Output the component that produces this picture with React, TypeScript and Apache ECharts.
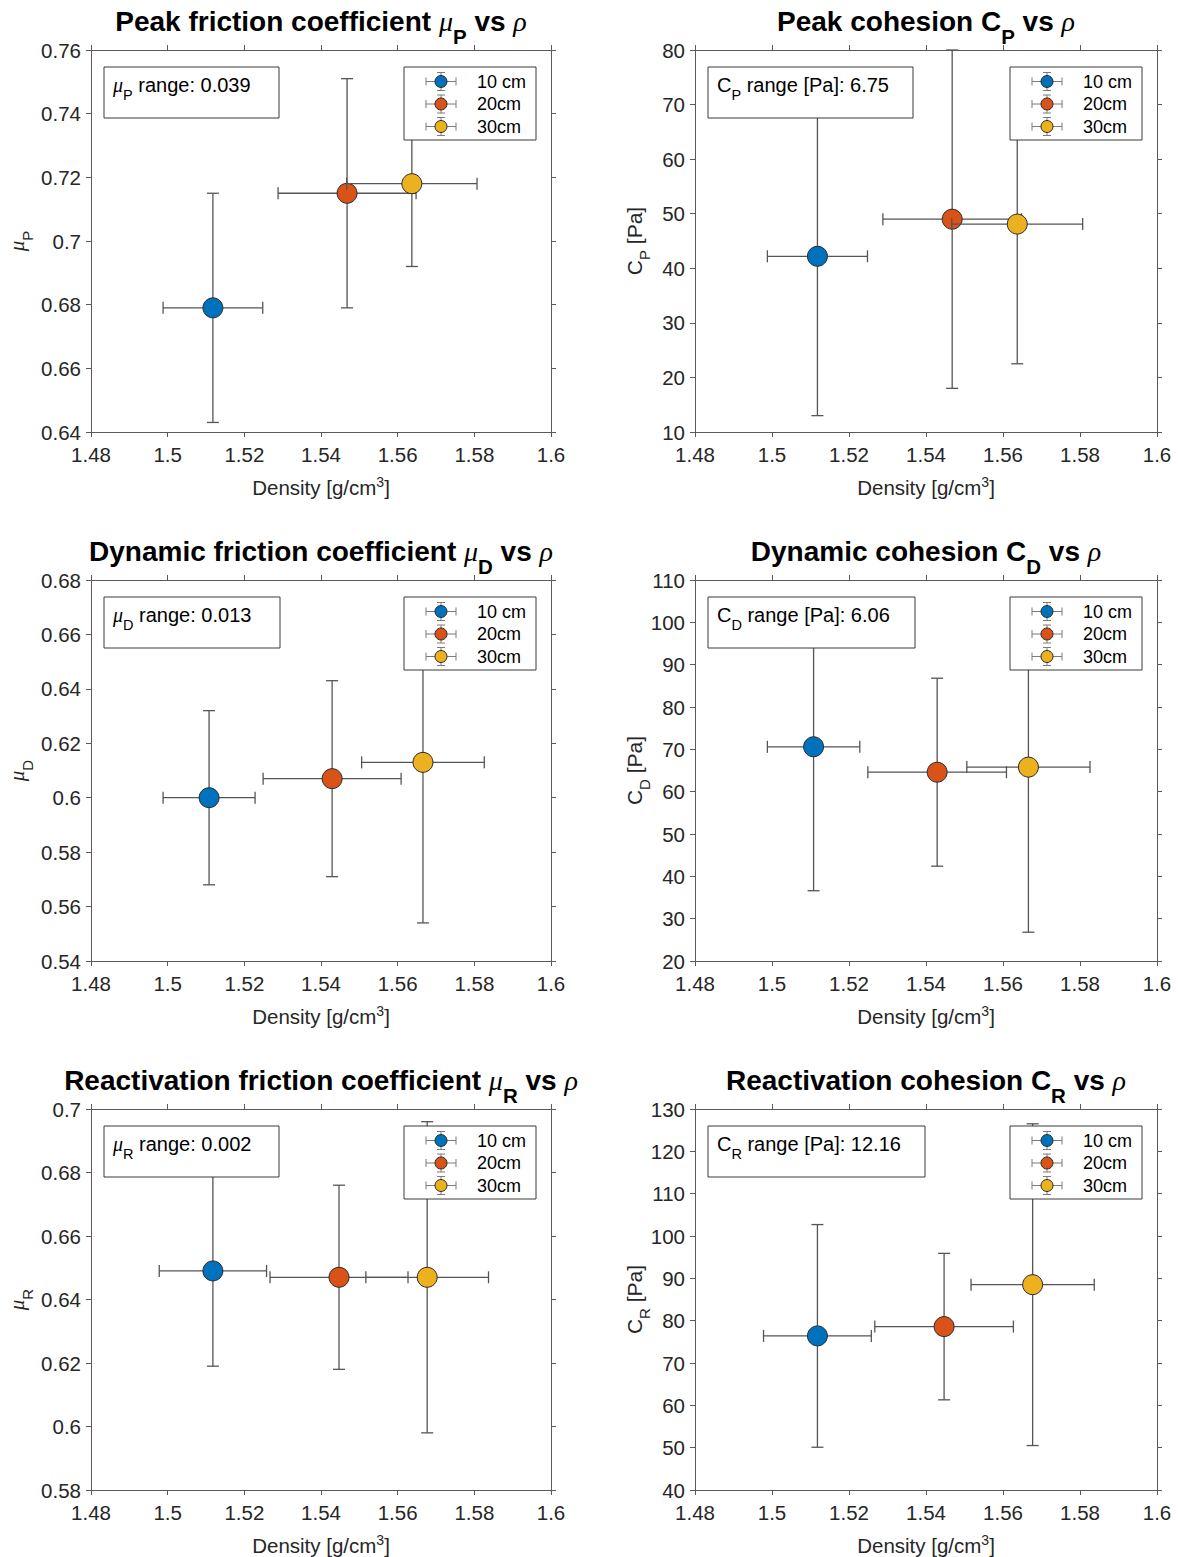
import React, { useEffect, useRef } from 'react';
import * as echarts from 'echarts';

// ---------- data ----------
const groups = ['10 cm', '20cm', '30cm'];

const xTickMin = 1.48;
const xTickMax = 1.6;
const xTickStep = 0.02;

// Peak strength
const peakDensity = [1.5118, 1.5468, 1.5637];
const peakDensityErr = [0.013, 0.018, 0.017];
const peakFriction = [0.679, 0.715, 0.718];
const peakFrictionErr = [0.036, 0.036, 0.026];
const peakCohesion = [42.2, 49.0, 48.1];
const peakCohesionErr = [29.2, 31.0, 25.6];

// Dynamic strength
const dynDensity = [1.5108, 1.5429, 1.5666];
const dynDensityErr = [0.012, 0.018, 0.016];
const dynFriction = [0.6, 0.607, 0.613];
const dynFrictionErr = [0.032, 0.036, 0.059];
const dynCohesion = [70.6, 64.6, 65.8];
const dynCohesionErr = [34.0, 22.2, 39.0];

// Reactivation strength
const reaDensity = [1.5118, 1.5447, 1.5677];
const reaDensityErr = [0.014, 0.018, 0.016];
const reaFriction = [0.649, 0.647, 0.647];
const reaFrictionErr = [0.03, 0.029, 0.049];
const reaCohesion = [76.4, 78.6, 88.5];
const reaCohesionErr = [26.3, 17.3, 38.0];

// y axis limits [min, max, step]
const yLimits = [
  [0.64, 0.76, 0.02],
  [10, 80, 10],
  [0.54, 0.68, 0.02],
  [20, 110, 10],
  [0.58, 0.7, 0.02],
  [40, 130, 10],
];

const rangeTexts = ['0.039', '6.75', '0.013', '6.06', '0.002', '12.16'];
const titleHeads = [
  'Peak friction coefficient ',
  'Peak cohesion C',
  'Dynamic friction coefficient ',
  'Dynamic cohesion C',
  'Reactivation friction coefficient ',
  'Reactivation cohesion C',
];
const subLetters = ['P', 'P', 'D', 'D', 'R', 'R'];
const isFriction = [true, false, true, false, true, false];
const xLabel = 'Density [g/cm';

const panelData = [
  { d: peakDensity, de: peakDensityErr, v: peakFriction, ve: peakFrictionErr },
  { d: peakDensity, de: peakDensityErr, v: peakCohesion, ve: peakCohesionErr },
  { d: dynDensity, de: dynDensityErr, v: dynFriction, ve: dynFrictionErr },
  { d: dynDensity, de: dynDensityErr, v: dynCohesion, ve: dynCohesionErr },
  { d: reaDensity, de: reaDensityErr, v: reaFriction, ve: reaFrictionErr },
  { d: reaDensity, de: reaDensityErr, v: reaCohesion, ve: reaCohesionErr },
];

// ---------- layout / style ----------
const colLeft = [91, 695];
const colWidth = [460, 462];
const rowTop = [50, 580, 1109];
const rowHeight = [382, 381, 381];
const noteWidths = [175, 205, 176, 207, 175, 217];

const groupColors = ['#0072BD', '#D95319', '#EDB120'];
const FONT = "'Liberation Sans', Arial, Helvetica, sans-serif";
const SERIF = "'Liberation Serif', 'DejaVu Serif', serif";
const AX = '#5a5a5a';
const TXT = '#262626';
const BAR = '#555555';

const fmt = (v: number) => String(Number(Number(v).toFixed(4)));

const makeRender = (color: string) => (params: any, api: any) => {
  const x = api.value(0);
  const y = api.value(1);
  const ex = api.value(2);
  const ey = api.value(3);
  const c = api.coord([x, y]);
  const yt = api.coord([x, y + ey])[1];
  const yb = api.coord([x, y - ey])[1];
  const xl = api.coord([x - ex, y])[0];
  const xr = api.coord([x + ex, y])[0];
  const cap = 6;
  const st = { stroke: BAR, lineWidth: 1.3 };
  const ln = (x1: number, y1: number, x2: number, y2: number) => ({
    type: 'line',
    shape: { x1, y1, x2, y2 },
    style: st,
  });
  return {
    type: 'group',
    children: [
      ln(c[0], yt, c[0], yb),
      ln(c[0] - cap, yt, c[0] + cap, yt),
      ln(c[0] - cap, yb, c[0] + cap, yb),
      ln(xl, c[1], xr, c[1]),
      ln(xl, c[1] - cap, xl, c[1] + cap),
      ln(xr, c[1] - cap, xr, c[1] + cap),
      {
        type: 'circle',
        shape: { cx: c[0], cy: c[1], r: 10 },
        style: { fill: color, stroke: '#2b2b2b', lineWidth: 1 },
      },
    ],
  };
};

function buildOption() {
  const grid: any[] = [];
  const xAxis: any[] = [];
  const yAxis: any[] = [];
  const series: any[] = [];
  const graphic: any[] = [];

  panelData.forEach((p, i) => {
    const c = i % 2;
    const r = Math.floor(i / 2);
    const left = colLeft[c];
    const width = colWidth[c];
    const top = rowTop[r];
    const height = rowHeight[r];
    const [yMin, yMax, yStep] = yLimits[i];

    grid.push({ left, top, width, height, show: false });

    const axisLine = { show: true, onZero: false, lineStyle: { color: AX, width: 1 } };
    const axisTick = { show: true, inside: false, length: 5, lineStyle: { color: AX, width: 1 } };
    const label = {
      show: true,
      fontSize: 20.5,
      color: TXT,
      fontFamily: FONT,
      formatter: fmt,
      showMinLabel: true,
      showMaxLabel: true,
    };

    xAxis.push({
      type: 'value', gridIndex: i, position: 'bottom',
      min: xTickMin, max: xTickMax, interval: xTickStep,
      axisLine, axisTick, splitLine: { show: false },
      axisLabel: { ...label, margin: 12 },
    });
    xAxis.push({
      type: 'value', gridIndex: i, position: 'top',
      min: xTickMin, max: xTickMax, interval: xTickStep,
      axisLine, axisTick, splitLine: { show: false }, axisLabel: { show: false },
    });
    yAxis.push({
      type: 'value', gridIndex: i, position: 'left',
      min: yMin, max: yMax, interval: yStep,
      axisLine, axisTick, splitLine: { show: false },
      axisLabel: { ...label, margin: 10 },
    });
    yAxis.push({
      type: 'value', gridIndex: i, position: 'right',
      min: yMin, max: yMax, interval: yStep,
      axisLine, axisTick, splitLine: { show: false }, axisLabel: { show: false },
    });

    groups.forEach((g, k) => {
      series.push({
        type: 'custom',
        name: g,
        xAxisIndex: 2 * i,
        yAxisIndex: 2 * i,
        z: 2 + k,
        encode: { x: 0, y: 1 },
        data: [[p.d[k], p.v[k], p.de[k], p.ve[k]]],
        renderItem: makeRender(groupColors[k]),
      });
    });

    const sub = subLetters[i];
    const fric = isFriction[i];

    // title
    graphic.push({
      type: 'text',
      z: 100,
      x: left + width / 2,
      y: top - 29,
      style: {
        text: `{b|${titleHeads[i]}}${fric ? '{mu|μ}' : ''}{bs|${sub}}{b| vs }{rho|ρ}`,
        align: 'center', textAlign: 'center',
        verticalAlign: 'middle', textVerticalAlign: 'middle',
        rich: {
          b: { fontFamily: FONT, fontWeight: 'bold', fontSize: 28, lineHeight: 52, verticalAlign: 'middle', fill: '#000', color: '#000' },
          bs: { fontFamily: FONT, fontWeight: 'bold', fontSize: 20.5, lineHeight: 20.5, verticalAlign: 'bottom', fill: '#000', color: '#000' },
          mu: { fontFamily: SERIF, fontStyle: 'italic', fontSize: 28, lineHeight: 52, verticalAlign: 'middle', fill: '#000', color: '#000' },
          rho: { fontFamily: SERIF, fontStyle: 'italic', fontSize: 28, lineHeight: 52, verticalAlign: 'middle', fill: '#000', color: '#000' },
        },
      },
    });

    // x axis name
    graphic.push({
      type: 'text',
      z: 100,
      x: left + width / 2,
      y: top + height + 55,
      style: {
        text: `{t|${xLabel}}{sup|3}{t|]}`,
        align: 'center', textAlign: 'center',
        verticalAlign: 'middle', textVerticalAlign: 'middle',
        rich: {
          t: { fontFamily: FONT, fontSize: 20.5, lineHeight: 23.4, verticalAlign: 'middle', fill: TXT, color: TXT },
          sup: { fontFamily: FONT, fontSize: 14, lineHeight: 14, verticalAlign: 'top', fill: TXT, color: TXT },
        },
      },
    });

    // y axis name
    graphic.push({
      type: 'text',
      z: 100,
      x: left - (fric ? 74 : 61),
      y: top + height / 2,
      rotation: Math.PI / 2,
      style: {
        text: fric ? `{mu|μ}{s|${sub}}` : `{t|C}{s|${sub}}{t| [Pa]}`,
        align: 'center', textAlign: 'center',
        verticalAlign: 'middle', textVerticalAlign: 'middle',
        rich: {
          t: { fontFamily: FONT, fontSize: 21, lineHeight: 35, verticalAlign: 'middle', fill: TXT, color: TXT },
          mu: { fontFamily: SERIF, fontStyle: 'italic', fontSize: 21, lineHeight: 35, verticalAlign: 'middle', fill: TXT, color: TXT },
          s: { fontFamily: FONT, fontSize: 15, lineHeight: 15, verticalAlign: 'bottom', fill: TXT, color: TXT },
        },
      },
    });

    // annotation box
    const bx = left + 13;
    const by = top + 17;
    graphic.push({
      type: 'rect',
      z: 100,
      shape: { x: bx, y: by, width: noteWidths[i], height: 51 },
      style: { fill: '#ffffff', stroke: '#3a3a3a', lineWidth: 1 },
    });
    graphic.push({
      type: 'text',
      z: 101,
      x: bx + 9,
      y: by + 18,
      style: {
        text: fric
          ? `{mu|μ}{s|${sub}}{t| range: ${rangeTexts[i]}}`
          : `{t|C}{s|${sub}}{t| range [Pa]: ${rangeTexts[i]}}`,
        align: 'left', textAlign: 'left',
        verticalAlign: 'middle', textVerticalAlign: 'middle',
        rich: {
          t: { fontFamily: FONT, fontSize: 20, lineHeight: 35, verticalAlign: 'middle', fill: '#000', color: '#000' },
          mu: { fontFamily: SERIF, fontStyle: 'italic', fontSize: 20, lineHeight: 35, verticalAlign: 'middle', fill: '#000', color: '#000' },
          s: { fontFamily: FONT, fontSize: 14.5, lineHeight: 14.5, verticalAlign: 'bottom', fill: '#000', color: '#000' },
        },
      },
    });

    // legend
    const lx = left + width - 147;
    const ly = top + 17;
    graphic.push({
      type: 'rect',
      z: 100,
      shape: { x: lx, y: ly, width: 132, height: 73 },
      style: { fill: '#ffffff', stroke: '#3a3a3a', lineWidth: 1 },
    });
    const rowsY = [14.5, 37, 59.5];
    groups.forEach((g, k) => {
      const ix = lx + 37;
      const iy = ly + rowsY[k];
      const ls = { stroke: '#7a7a7a', lineWidth: 1 };
      const seg = (x1: number, y1: number, x2: number, y2: number) => ({
        type: 'line', z: 101, shape: { x1, y1, x2, y2 }, style: ls,
      });
      graphic.push(seg(ix - 15, iy, ix + 15, iy));
      graphic.push(seg(ix - 15, iy - 4, ix - 15, iy + 4));
      graphic.push(seg(ix + 15, iy - 4, ix + 15, iy + 4));
      graphic.push(seg(ix, iy - 9, ix, iy + 9));
      graphic.push(seg(ix - 4, iy - 9, ix + 4, iy - 9));
      graphic.push(seg(ix - 4, iy + 9, ix + 4, iy + 9));
      graphic.push({
        type: 'circle', z: 102,
        shape: { cx: ix, cy: iy, r: 6 },
        style: { fill: groupColors[k], stroke: '#2b2b2b', lineWidth: 1 },
      });
      graphic.push({
        type: 'text', z: 102,
        x: lx + 73, y: iy,
        style: {
          text: g,
          fontFamily: FONT, fontSize: 18, fill: '#000',
          align: 'left', textAlign: 'left',
          verticalAlign: 'middle', textVerticalAlign: 'middle',
        },
      });
    });
  });

  return {
    animation: false,
    backgroundColor: '#ffffff',
    grid,
    xAxis,
    yAxis,
    series,
    graphic: { elements: graphic },
  };
}

export default function App() {
  const ref = useRef<HTMLDivElement>(null);
  useEffect(() => {
    document.body.style.margin = '0';
    if (!ref.current) return;
    const chart = echarts.init(ref.current, null, { renderer: 'svg' });
    chart.setOption(buildOption() as any);
    return () => chart.dispose();
  }, []);
  return <div ref={ref} style={{ width: 1178, height: 1557, background: '#fff' }} />;
}
